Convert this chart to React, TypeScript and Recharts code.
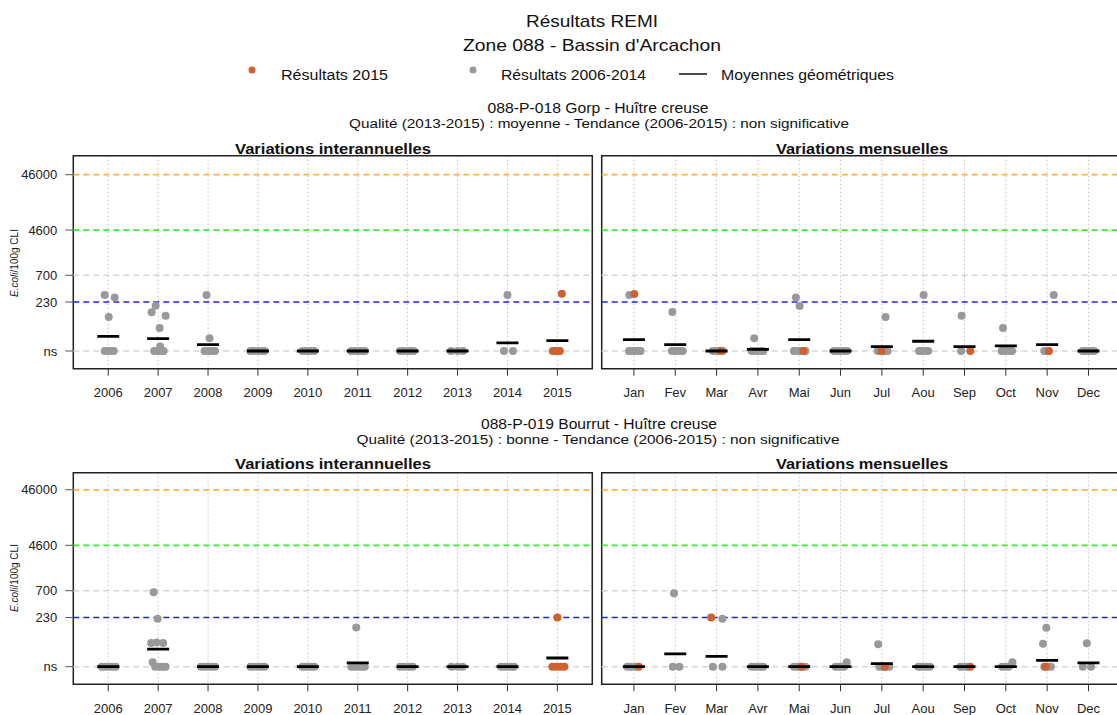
import React from 'react';
import { ScatterChart, Scatter, XAxis, YAxis, CartesianGrid, ReferenceLine, ReferenceArea } from 'recharts';

const years = ['2006', '2007', '2008', '2009', '2010', '2011', '2012', '2013', '2014', '2015'];
const months = ['Jan', 'Fev', 'Mar', 'Avr', 'Mai', 'Jun', 'Jul', 'Aou', 'Sep', 'Oct', 'Nov', 'Dec'];
const yTicks = [30, 230, 700, 4600, 46000];
const NS = 30; // "ns" level

// [category (1-based), jitter, value]
type Pt = [number, number, number];

// --- 088-P-018 Gorp, interannual
const gorpYearGreyNs = [
  [-0.07, -0.02, 0.03, 0.07, 0.11],
  [-0.08, -0.03, 0.02, 0.06, 0.11],
  [-0.07, -0.02, 0.03, 0.09, 0.14],
  [-0.15, -0.08, 0, 0.07, 0.13],
  [-0.11, -0.05, 0.01, 0.07, 0.13],
  [-0.13, -0.06, 0.01, 0.08, 0.14],
  [-0.15, -0.08, 0, 0.06, 0.12],
  [-0.13, 0, 0.11],
  [-0.07, 0.11],
  [],
];
const gorpYearGreyHigh: Pt[] = [
  [1, -0.07, 308], [1, 0.13, 279], [1, 0.01, 123],
  [2, -0.05, 197], [2, -0.13, 151], [2, 0.15, 130], [2, 0.03, 78], [2, 0.04, 36],
  [3, -0.03, 308], [3, 0.03, 51],
  [9, 0, 308],
];
const gorpYearOrangeNs = [[], [], [], [], [], [], [], [], [], [-0.09, -0.04, 0.01, 0.05]];
const gorpYearOrangeHigh: Pt[] = [[10, 0.09, 325]];
const gorpYearMeans = [55, 50, 39, 30, 30, 30, 30, 30, 42, 46];

// --- 088-P-018 Gorp, monthly
const gorpMonthGreyNs = [
  [-0.12, -0.06, 0, 0.05, 0.1, 0.16],
  [-0.08, -0.02, 0.05, 0.12, 0.18],
  [-0.09, -0.03, 0.03, 0.09, 0.15],
  [-0.15, -0.08, 0, 0.07, 0.13],
  [-0.13, -0.06, 0.01, 0.08, 0.15],
  [-0.16, -0.08, 0, 0.08, 0.16],
  [-0.1, -0.02, 0.06, 0.14],
  [-0.1, -0.03, 0.05, 0.12],
  [-0.08],
  [-0.1, -0.03, 0.06, 0.15],
  [-0.07, -0.02, 0.04],
  [-0.14, -0.07, 0, 0.07, 0.14],
];
const gorpMonthGreyHigh: Pt[] = [
  [1, -0.11, 308], [2, -0.07, 152], [4, -0.09, 51],
  [5, -0.08, 279], [5, 0.01, 195], [7, 0.09, 123], [8, 0.01, 308],
  [9, -0.07, 130], [10, -0.07, 78], [11, 0.16, 308],
];
const gorpMonthOrangeNs = [[], [], [0.1], [], [0.1], [], [-0.01], [], [0.14], [], [0.04], []];
const gorpMonthOrangeHigh: Pt[] = [[1, 0.01, 320]];
const gorpMonthMeans = [48, 39, 30, 32, 48, 30, 36, 45, 36, 37, 39, 30];

// --- 088-P-019 Bourrut, interannual
const bourYearGreyNs = [
  [-0.13, -0.06, 0.01, 0.08, 0.15],
  [-0.06, 0, 0.05, 0.1, 0.15],
  [-0.14, -0.07, 0, 0.07, 0.14],
  [-0.15, -0.08, 0, 0.07, 0.13],
  [-0.11, -0.05, 0.01, 0.07, 0.13],
  [-0.13, -0.06, 0.01, 0.08, 0.14],
  [-0.15, -0.07, 0.02, 0.1],
  [-0.12, 0, 0.1],
  [-0.13, -0.06, 0, 0.07, 0.13],
  [],
];
const bourYearGreyHigh: Pt[] = [
  [2, -0.09, 660], [2, -0.01, 220], [2, -0.14, 80], [2, -0.03, 82], [2, 0.1, 80], [2, -0.11, 36],
  [6, -0.03, 152],
];
const bourYearOrangeNs = [[], [], [], [], [], [], [], [], [], [-0.1, -0.02, 0.06, 0.14]];
const bourYearOrangeHigh: Pt[] = [[10, 0, 230]];
const bourYearMeans = [30, 62, 30, 30, 30, 35, 30, 30, 30, 43];

// --- 088-P-019 Bourrut, monthly
const bourMonthGreyNs = [
  [-0.16, -0.08, 0, 0.06],
  [-0.06, 0.1],
  [-0.09, 0.14],
  [-0.15, -0.08, 0, 0.07, 0.13],
  [-0.13, -0.06, 0.01, 0.08, 0.15],
  [-0.12, -0.05, 0.02, 0.09],
  [-0.06, 0.02, 0.1, 0.18],
  [-0.12, -0.05, 0.02, 0.09, 0.16],
  [-0.1, -0.02, 0.06],
  [-0.09, -0.01, 0.07],
  [-0.07, 0.01, 0.09],
  [-0.14, 0.06],
];
const bourMonthGreyHigh: Pt[] = [
  [2, -0.03, 633], [3, 0.14, 220], [6, 0.15, 36], [7, -0.09, 76],
  [10, 0.16, 36], [11, -0.02, 150], [11, -0.1, 78], [12, -0.04, 79],
];
const bourMonthOrangeNs = [[0.12], [], [], [], [0.05], [], [0.07], [], [0.14], [], [-0.04], []];
const bourMonthOrangeHigh: Pt[] = [[3, -0.13, 230]];
const bourMonthMeans = [30, 51, 46, 30, 30, 30, 34, 30, 30, 30, 39, 35];

const GREY = '#999999';
const ORANGE = '#cf6131';
const FONT = '"Liberation Sans", Arial, sans-serif';

function toPoints(ns: number[][], high: Pt[]) {
  const pts: { x: number; y: number }[] = [];
  ns.forEach((offs, i) => offs.forEach((d) => pts.push({ x: i + 1 + d, y: NS })));
  high.forEach(([c, d, v]) => pts.push({ x: c + d, y: v }));
  return pts;
}

const Dot = (color: string) => (p: any) => <circle cx={p.cx} cy={p.cy} r={4} fill={color} />;
const MeanBar = (p: any) => (
  <line x1={p.cx - 11} x2={p.cx + 11} y1={p.cy} y2={p.cy} stroke="#000" strokeWidth={2.8} />
);

interface PanelProps {
  box: { left: number; top: number; width: number; height: number };
  plot: { x0: number; x1: number; y0: number; y1: number }; // page coords
  cats: string[];
  xDomain: [number, number];
  yDomain: [number, number];
  showY: boolean;
  grey: { x: number; y: number }[];
  orange: { x: number; y: number }[];
  means: number[];
}

function Panel({ box, plot, cats, xDomain, yDomain, showY, grey, orange, means }: PanelProps) {
  const yW = showY ? 60 : 0;
  const xH = 30;
  const margin = {
    top: plot.y0 - box.top,
    left: plot.x0 - box.left - yW,
    right: box.left + box.width - plot.x1,
    bottom: box.top + box.height - plot.y1 - xH,
  };
  const meanPts = means.map((v, i) => ({ x: i + 1, y: v }));
  const tickStyle = { fill: '#222', fontSize: 13, fontFamily: FONT };
  return (
    <div style={{ position: 'absolute', left: box.left, top: box.top }}>
      <ScatterChart width={box.width} height={box.height} margin={margin}>
        <CartesianGrid horizontal={false} stroke="#c4c4c4" strokeDasharray="1.5 2.5" />
        <XAxis
          type="number"
          dataKey="x"
          domain={xDomain}
          ticks={cats.map((_, i) => i + 1)}
          tickFormatter={(v: number) => cats[v - 1]}
          interval={0}
          allowDataOverflow
          axisLine={false}
          tickSize={7}
          tickMargin={12}
          tickLine={{ stroke: '#333' }}
          tick={tickStyle}
          height={xH}
        />
        <YAxis
          type="number"
          dataKey="y"
          scale="log"
          domain={yDomain}
          ticks={yTicks}
          tickFormatter={(v: number) => (v === NS ? 'ns' : String(v))}
          interval={0}
          allowDataOverflow
          axisLine={false}
          tickSize={8}
          tickMargin={8}
          tickLine={{ stroke: '#555' }}
          tick={tickStyle}
          width={yW}
          hide={!showY}
        />
        <ReferenceLine y={NS} stroke="#d6d6d6" strokeDasharray="6 4" strokeWidth={1.5} />
        <ReferenceLine y={700} stroke="#d6d6d6" strokeDasharray="6 4" strokeWidth={1.5} />
        <ReferenceLine y={230} stroke="#2020ff" strokeDasharray="6 4" strokeWidth={1.6} />
        <ReferenceLine y={4600} stroke="#33ee33" strokeDasharray="6 4" strokeWidth={1.8} />
        <ReferenceLine y={46000} stroke="#ffb340" strokeDasharray="6 4" strokeWidth={1.8} />
        <Scatter data={grey} shape={Dot(GREY)} isAnimationActive={false} />
        <Scatter data={orange} shape={Dot(ORANGE)} isAnimationActive={false} />
        <Scatter data={meanPts} shape={MeanBar} isAnimationActive={false} />
        <ReferenceArea
          x1={xDomain[0]}
          x2={xDomain[1]}
          y1={yDomain[0]}
          y2={yDomain[1]}
          fill="none"
          stroke="#222"
          strokeWidth={1.5}
          ifOverflow="visible"
        />
      </ScatterChart>
    </div>
  );
}

function YLabel({ x, y }: { x: number; y: number }) {
  return (
    <text transform={`translate(${x},${y}) rotate(-90)`} textAnchor="middle" fontSize={10} fill="#222">
      <tspan fontStyle="italic">E.coli</tspan>/100g CLI
    </text>
  );
}

export default function App() {
  const yearDom: [number, number] = [0.3, 10.7];
  const monthDom: [number, number] = [0.22, 12.78];
  const topDom: [number, number] = [14.35, 101500];
  const botDom: [number, number] = [14.45, 93400];
  return (
    <div
      style={{
        position: 'absolute',
        left: 0,
        top: 0,
        width: 1117,
        height: 715,
        overflow: 'hidden',
        background: '#fff',
        fontFamily: FONT,
      }}
    >
      <Panel
        box={{ left: 0, top: 140, width: 600, height: 265 }}
        plot={{ x0: 73.3, x1: 592.3, y0: 155.7, y1: 368.7 }}
        cats={years}
        xDomain={yearDom}
        yDomain={topDom}
        showY
        grey={toPoints(gorpYearGreyNs, gorpYearGreyHigh)}
        orange={toPoints(gorpYearOrangeNs, gorpYearOrangeHigh)}
        means={gorpYearMeans}
      />
      <Panel
        box={{ left: 590, top: 140, width: 545, height: 265 }}
        plot={{ x0: 601.7, x1: 1120.7, y0: 155.7, y1: 368.7 }}
        cats={months}
        xDomain={monthDom}
        yDomain={topDom}
        showY={false}
        grey={toPoints(gorpMonthGreyNs, gorpMonthGreyHigh)}
        orange={toPoints(gorpMonthOrangeNs, gorpMonthOrangeHigh)}
        means={gorpMonthMeans}
      />
      <Panel
        box={{ left: 0, top: 455, width: 600, height: 265 }}
        plot={{ x0: 73.3, x1: 592.3, y0: 472.7, y1: 684.3 }}
        cats={years}
        xDomain={yearDom}
        yDomain={botDom}
        showY
        grey={toPoints(bourYearGreyNs, bourYearGreyHigh)}
        orange={toPoints(bourYearOrangeNs, bourYearOrangeHigh)}
        means={bourYearMeans}
      />
      <Panel
        box={{ left: 590, top: 455, width: 545, height: 265 }}
        plot={{ x0: 601.7, x1: 1120.7, y0: 472.7, y1: 684.3 }}
        cats={months}
        xDomain={monthDom}
        yDomain={botDom}
        showY={false}
        grey={toPoints(bourMonthGreyNs, bourMonthGreyHigh)}
        orange={toPoints(bourMonthOrangeNs, bourMonthOrangeHigh)}
        means={bourMonthMeans}
      />
      <svg
        width={1117}
        height={715}
        style={{ position: 'absolute', left: 0, top: 0, pointerEvents: 'none' }}
        fontFamily={FONT}
      >
        <g fill="#111" textAnchor="middle">
          <text x={592} y={27} fontSize={17} textLength={132} lengthAdjust="spacingAndGlyphs">Résultats REMI</text>
          <text x={592} y={51} fontSize={17} textLength={258} lengthAdjust="spacingAndGlyphs">Zone 088 - Bassin d'Arcachon</text>
          <text x={598} y={113} fontSize={14} textLength={221} lengthAdjust="spacingAndGlyphs">088-P-018 Gorp - Huître creuse</text>
          <text x={599} y={128} fontSize={12.5} textLength={500} lengthAdjust="spacingAndGlyphs">Qualité (2013-2015) :  moyenne  - Tendance (2006-2015) : non significative</text>
          <text x={599} y={429} fontSize={14} textLength={236} lengthAdjust="spacingAndGlyphs">088-P-019 Bourrut - Huître creuse</text>
          <text x={598} y={444} fontSize={12.5} textLength={483} lengthAdjust="spacingAndGlyphs">Qualité (2013-2015) :  bonne  - Tendance (2006-2015) : non significative</text>
          <g fontWeight="bold" fontSize={14}>
            <text x={333} y={154} textLength={196} lengthAdjust="spacingAndGlyphs">Variations interannuelles</text>
            <text x={862} y={154} textLength={172} lengthAdjust="spacingAndGlyphs">Variations mensuelles</text>
            <text x={333} y={469} textLength={196} lengthAdjust="spacingAndGlyphs">Variations interannuelles</text>
            <text x={862} y={469} textLength={172} lengthAdjust="spacingAndGlyphs">Variations mensuelles</text>
          </g>
        </g>
        <g fill="#111" fontSize={14}>
          <circle cx={252} cy={70} r={3.5} fill={ORANGE} />
          <text x={281} y={80} textLength={107} lengthAdjust="spacingAndGlyphs">Résultats 2015</text>
          <circle cx={473} cy={70} r={3.5} fill={GREY} />
          <text x={501} y={80} textLength={145} lengthAdjust="spacingAndGlyphs">Résultats 2006-2014</text>
          <line x1={679} x2={707} y1={74} y2={74} stroke="#111" strokeWidth={1.5} />
          <text x={721} y={80} textLength={173} lengthAdjust="spacingAndGlyphs">Moyennes géométriques</text>
        </g>
        <YLabel x={18} y={263} />
        <YLabel x={18} y={578} />
      </svg>
    </div>
  );
}
